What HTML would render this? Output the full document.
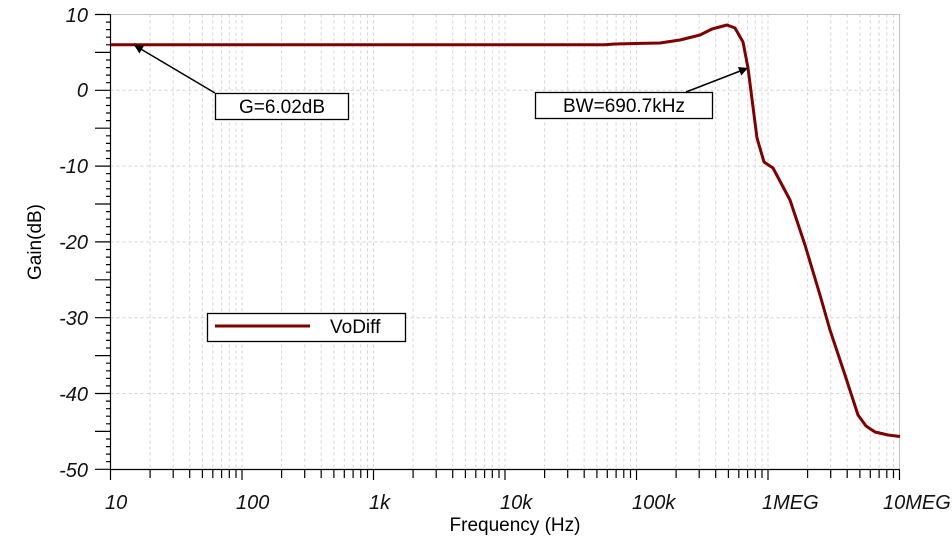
<!DOCTYPE html>
<html><head><meta charset="utf-8"><style>body{margin:0;background:#fff}svg{display:block}</style></head><body>
<svg width="952" height="542" viewBox="0 0 952 542" xmlns="http://www.w3.org/2000/svg" font-family="Liberation Sans, sans-serif">
<defs><marker id="ah" viewBox="0 0 10 10" refX="10" refY="5" markerWidth="13" markerHeight="9" orient="auto" markerUnits="userSpaceOnUse"><path d="M0,0L10,5L0,10z" fill="#000"/></marker></defs>
<path fill="none" stroke="#d4d4d4" stroke-dasharray="3,3" stroke-width="1" d="
M150.1 14.5V469.5M173.2 14.5V469.5M189.7 14.5V469.5M202.4 14.5V469.5M212.8 14.5V469.5M221.6 14.5V469.5M229.3 14.5V469.5M236 14.5V469.5M242 14.5V469.5
M281.6 14.5V469.5M304.7 14.5V469.5M321.2 14.5V469.5M333.9 14.5V469.5M344.3 14.5V469.5M353.1 14.5V469.5M360.8 14.5V469.5M367.5 14.5V469.5M373.5 14.5V469.5
M413.1 14.5V469.5M436.2 14.5V469.5M452.7 14.5V469.5M465.4 14.5V469.5M475.8 14.5V469.5M484.6 14.5V469.5M492.3 14.5V469.5M499 14.5V469.5M505 14.5V469.5
M544.6 14.5V469.5M567.7 14.5V469.5M584.2 14.5V469.5M596.9 14.5V469.5M607.3 14.5V469.5M616.1 14.5V469.5M623.8 14.5V469.5M630.5 14.5V469.5M636.5 14.5V469.5
M676.1 14.5V469.5M699.2 14.5V469.5M715.7 14.5V469.5M728.4 14.5V469.5M738.8 14.5V469.5M747.6 14.5V469.5M755.3 14.5V469.5M762 14.5V469.5M768 14.5V469.5
M807.6 14.5V469.5M830.7 14.5V469.5M847.2 14.5V469.5M859.9 14.5V469.5M870.3 14.5V469.5M879.1 14.5V469.5M886.8 14.5V469.5M893.5 14.5V469.5
M110.5 90.3H899.5M110.5 166.1H899.5M110.5 241.9H899.5M110.5 317.7H899.5M110.5 393.5H899.5"/>
<rect x="110.5" y="14.5" width="789" height="455" fill="none" stroke="#c0c0c0"/>
<path fill="none" stroke="#000" stroke-width="1.2" d="
M110.5 14.5V469.5H899.5
M95 14.5H110.5M95 52.4H110.5M95 90.3H110.5M95 128.2H110.5M95 166.1H110.5M95 204H110.5M95 241.9H110.5M95 279.8H110.5M95 317.7H110.5M95 355.6H110.5M95 393.5H110.5M95 431.4H110.5M95 469.3H110.5
M106 22.1H110.5M106 29.7H110.5M106 37.2H110.5M106 44.8H110.5M106 60H110.5M106 67.6H110.5M106 75.1H110.5M106 82.7H110.5
M106 97.9H110.5M106 105.5H110.5M106 113H110.5M106 120.6H110.5M106 135.8H110.5M106 143.4H110.5M106 150.9H110.5M106 158.5H110.5
M106 173.7H110.5M106 181.3H110.5M106 188.8H110.5M106 196.4H110.5M106 211.6H110.5M106 219.2H110.5M106 226.7H110.5M106 234.3H110.5
M106 249.5H110.5M106 257.1H110.5M106 264.6H110.5M106 272.2H110.5M106 287.4H110.5M106 295H110.5M106 302.5H110.5M106 310.1H110.5
M106 325.3H110.5M106 332.9H110.5M106 340.4H110.5M106 348H110.5M106 363.2H110.5M106 370.8H110.5M106 378.3H110.5M106 385.9H110.5
M106 401.1H110.5M106 408.7H110.5M106 416.2H110.5M106 423.8H110.5M106 439H110.5M106 446.6H110.5M106 454.1H110.5M106 461.7H110.5
M110.5 469.5V480M150.1 469.5V478M173.2 469.5V478M189.7 469.5V478M202.4 469.5V478M212.8 469.5V478M221.6 469.5V478M229.3 469.5V478M236 469.5V478M242 469.5V480
M281.6 469.5V478M304.7 469.5V478M321.2 469.5V478M333.9 469.5V478M344.3 469.5V478M353.1 469.5V478M360.8 469.5V478M367.5 469.5V478M373.5 469.5V480
M413.1 469.5V478M436.2 469.5V478M452.7 469.5V478M465.4 469.5V478M475.8 469.5V478M484.6 469.5V478M492.3 469.5V478M499 469.5V478M505 469.5V480
M544.6 469.5V478M567.7 469.5V478M584.2 469.5V478M596.9 469.5V478M607.3 469.5V478M616.1 469.5V478M623.8 469.5V478M630.5 469.5V478M636.5 469.5V480
M676.1 469.5V478M699.2 469.5V478M715.7 469.5V478M728.4 469.5V478M738.8 469.5V478M747.6 469.5V478M755.3 469.5V478M762 469.5V478M768 469.5V480
M807.6 469.5V478M830.7 469.5V478M847.2 469.5V478M859.9 469.5V478M870.3 469.5V478M879.1 469.5V478M886.8 469.5V478M893.5 469.5V478M899.5 469.5V480"/>
<g font-size="20" font-style="italic" fill="#111" text-anchor="end">
<text x="88" y="22">10</text><text x="88" y="97">0</text><text x="88" y="173">-10</text><text x="88" y="249">-20</text><text x="88" y="325">-30</text><text x="88" y="401">-40</text><text x="88" y="477">-50</text>
</g>
<g font-size="20" font-style="italic" fill="#111">
<text x="105" y="509">10</text><text x="236" y="509">100</text><text x="369" y="509">1k</text><text x="500" y="509">10k</text><text x="632" y="509">100k</text><text x="762" y="509">1MEG</text><text x="883" y="509">10MEG</text>
</g>
<polyline fill="none" stroke="#800000" stroke-width="3" stroke-linejoin="round" points="110.5,44.8 605,44.8 615,44 660,43 680,40 700,35 712,29 727,25 735,28 743,42 748,68 757,138 764,162 773,168 790,200 805,245 820,295 830,330 845,375 858,415 866,426 875,432 888,435 900,436.5"/>
<text x="41" y="242" font-size="19" text-anchor="middle" transform="rotate(-90 41 242)">Gain(dB)</text>
<text x="515" y="531" font-size="19" text-anchor="middle">Frequency (Hz)</text>
<line x1="215" y1="93" x2="134" y2="45" stroke="#000" stroke-width="1.5" marker-end="url(#ah)"/>
<rect x="215.5" y="93.5" width="133" height="26" fill="#fff" stroke="#000" stroke-width="1.3"/>
<text x="282" y="113" font-size="19" text-anchor="middle">G=6.02dB</text>
<line x1="686" y1="92" x2="748" y2="68" stroke="#000" stroke-width="1.5" marker-end="url(#ah)"/>
<rect x="535.5" y="92.5" width="177" height="26" fill="#fff" stroke="#000" stroke-width="1.3"/>
<text x="624" y="112" font-size="19" text-anchor="middle">BW=690.7kHz</text>
<rect x="207.5" y="313.5" width="198" height="28" fill="#fff" stroke="#000" stroke-width="1.3"/>
<line x1="215" y1="326" x2="310" y2="326" stroke="#800000" stroke-width="3"/>
<text x="330" y="333" font-size="19">VoDiff</text>
</svg>
</body></html>
